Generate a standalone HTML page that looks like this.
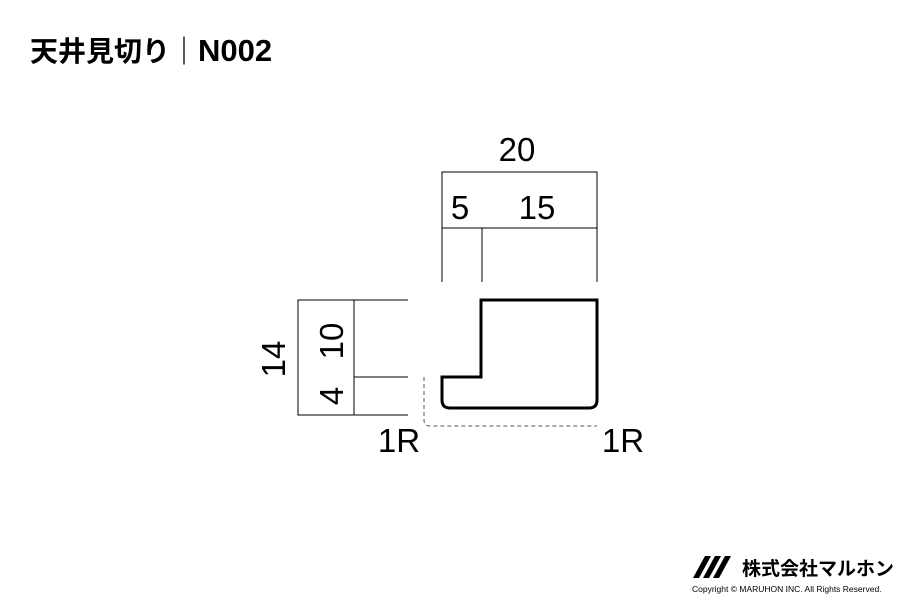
<!DOCTYPE html>
<html><head><meta charset="utf-8"><style>
body{margin:0;background:#fff;}
svg{display:block}
text{font-family:"Liberation Sans","Noto Sans CJK JP",sans-serif;fill:#000}
</style></head><body>
<svg width="900" height="600" viewBox="0 0 900 600" xmlns="http://www.w3.org/2000/svg">
<text x="30" y="61" font-size="28" font-weight="bold">天井見切り｜<tspan font-size="31">N002</tspan></text>
<g stroke="#000" stroke-width="1" fill="none">
<polyline points="442,282 442,172 597,172 597,282"/>
<line x1="442" y1="228" x2="597" y2="228"/>
<line x1="482" y1="228" x2="482" y2="282"/>
<rect x="298" y="300" width="56" height="115"/>
<line x1="354" y1="300" x2="408" y2="300"/>
<line x1="354" y1="377" x2="408" y2="377"/>
<line x1="354" y1="415" x2="408" y2="415"/>
<path d="M424,377 V420 Q424,426 430,426 H597" stroke="#555" stroke-dasharray="4,3"/>
</g>
<path d="M481,300 H597 V400 Q597,408 589,408 H450 Q442,408 442,400 V377 H481 Z" fill="none" stroke="#000" stroke-width="3"/>
<g font-size="33">
<text x="517" y="161" text-anchor="middle">20</text>
<text x="460" y="219" text-anchor="middle">5</text>
<text x="537" y="219" text-anchor="middle">15</text>
<text x="399" y="452" text-anchor="middle">1R</text>
<text x="623" y="452" text-anchor="middle">1R</text>
<text transform="translate(285,359) rotate(-90)" text-anchor="middle">14</text>
<text transform="translate(343,341) rotate(-90)" text-anchor="middle">10</text>
<text transform="translate(343,396) rotate(-90)" text-anchor="middle">4</text>
</g>
<g fill="#000">
<polygon points="693,578 705,556 711,556 699,578"/>
<polygon points="703,578 715,556 721,556 709,578"/>
<polygon points="713,578 725,556 731,556 719,578"/>
</g>
<text x="742" y="575" font-size="19" font-weight="bold">株式会社マルホン</text>
<text x="692" y="592" font-size="8.5" fill="#333">Copyright © MARUHON INC. All Rights Reserved.</text>
</svg>
</body></html>
